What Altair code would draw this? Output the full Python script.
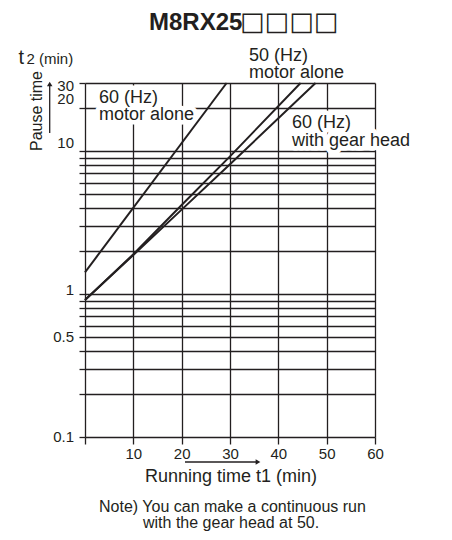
import altair as alt
import pandas as pd

# ---- data ----
t_60_motor = [0, 29.3]
p_60_motor = [1.42, 30]
t_50_motor = [0, 10, 20, 30, 44.6]
p_50_motor = [0.91, 1.9, 4.2, 9.2, 30]
t_60_gear = [0, 10, 20, 30, 47.7]
p_60_gear = [0.91, 1.88, 3.9, 8.1, 30]

series_names = ["60 Hz motor alone", "50 Hz motor alone", "60 Hz with gear head"]

x_ticks = [0, 10, 20, 30, 40, 50, 60]
y_grid = [0.1, 0.2, 0.3, 0.4, 0.5, 0.6, 0.7, 0.8, 0.9,
          1, 2, 3, 4, 5, 6, 7, 8, 9, 10, 20, 30]
y_labeled = [0.1, 0.5, 1, 10, 20, 30]
y_label_text = ["0.1", "0.5", "1", "10", "20", "30"]

title_text = "M8RX25"
title_boxes = "□□□□"
label_50_motor = ["50 (Hz)", "motor alone"]
label_60_motor = ["60 (Hz)", "motor alone"]
label_60_gear = ["60 (Hz)", "with gear head"]
y_title_t = "t"
y_title_rest = "2 (min)"
y_title_side = "Pause time"
x_title = "Running time t1 (min)"
note_lines = ["Note) You can make a continuous run", "with the gear head at 50."]

rows = []
for name, ts, ps in zip(series_names,
                        [t_60_motor, t_50_motor, t_60_gear],
                        [p_60_motor, p_50_motor, p_60_gear]):
    for t, p in zip(ts, ps):
        rows.append({"series": name, "t1": t, "t2": p})
df = pd.DataFrame(rows)

FONT = "Liberation Sans"
INK = "#231f20"
one = pd.DataFrame({"k": [0]})

x_scale = alt.Scale(domain=[0, 60], nice=False, zero=False)
y_scale = alt.Scale(type="log", domain=[0.1, 30], nice=False)

x_enc = alt.X(
    "t1:Q", title="", scale=x_scale,
    axis=alt.Axis(values=x_ticks, grid=True, gridColor=INK, gridWidth=1.3, gridOpacity=1,
                  domain=False, tickSize=7, tickColor=INK, tickWidth=1.3,
                  labelPadding=2, labelFont=FONT, labelFontSize=15, labelColor=INK,
                  labelExpr="datum.value == 0 ? '' : datum.label",
                  labelFlush=False, labelOverlap=False),
)
y_enc = alt.Y(
    "t2:Q", title="", scale=y_scale,
    axis=alt.Axis(values=y_grid, grid=True, gridColor=INK, gridWidth=1.3,
                  gridOpacity=1, domain=False, tickSize=6, tickColor=INK, tickWidth=1.3,
                  labels=False),
)

lines = alt.Chart(df).mark_line(color=INK, strokeWidth=2).encode(
    x=x_enc, y=y_enc, detail="series:N"
)


def txt(s, x, y, size=18, align="left", weight="normal", angle=0, halo=False, font=FONT):
    d = pd.DataFrame({"s": [s]})
    kw = dict(align=align, baseline="alphabetic", font=font, fontSize=size,
              fontWeight=weight, angle=angle)
    if halo:
        kw.update(color="white", stroke="white", strokeWidth=9, strokeJoin="round")
    else:
        kw.update(color=INK)
    return alt.Chart(d).mark_text(**kw).encode(
        text="s:N", x=alt.value(x), y=alt.value(y)
    )


def ylab(i, dy):
    d = pd.DataFrame({"v": [y_labeled[i]], "s": [y_label_text[i]]})
    return alt.Chart(d).mark_text(align="right", baseline="middle", font=FONT,
                                  fontSize=15, color=INK, dy=dy).encode(
        text="s:N", x=alt.value(-11), y=alt.Y("v:Q", scale=y_scale))


halo_layers = [
    txt(label_60_motor[0], 14, 20, halo=True),
    txt(label_60_motor[1], 14, 37, halo=True),
    txt(label_60_gear[0], 207, 45, halo=True),
    txt(label_60_gear[1], 207, 63, halo=True),
]

text_layers = [
    txt(title_text, 64, -53, size=24, weight="bold"),
    txt(title_boxes, 155, -53, size=26, font="DejaVu Sans"),
    txt(label_50_motor[0], 164, -22),
    txt(label_50_motor[1], 164, -5.5),
    txt(label_60_motor[0], 14, 20),
    txt(label_60_motor[1], 14, 37),
    txt(label_60_gear[0], 207, 45),
    txt(label_60_gear[1], 207, 63),
    txt(y_title_t, -66.5, -19.5, size=20),
    txt(y_title_rest, -58.5, -19.5, size=15),
    txt(y_title_side, -43, 28, size=16, align="center", angle=270),
    txt(x_title, 60, 399, size=18),
    txt(note_lines[0], 14, 428.5, size=16),
    txt(note_lines[1], 58, 445, size=16),
]

ylabel_layers = [ylab(0, 0), ylab(1, 0), ylab(2, -4), ylab(3, -8), ylab(4, -9), ylab(5, 3)]

arrows = [
    alt.Chart(one).mark_rule(color=INK, strokeWidth=1.3).encode(
        x=alt.value(-35.3), y=alt.value(50), y2=alt.value(3)),
    alt.Chart(one).mark_point(shape="triangle-up", filled=True, color=INK, opacity=1,
                              size=30).encode(x=alt.value(-35.3), y=alt.value(1)),
    alt.Chart(one).mark_rule(color=INK, strokeWidth=1.3).encode(
        x=alt.value(100), x2=alt.value(172), y=alt.value(379)),
    alt.Chart(one).mark_point(shape="triangle-right", filled=True, color=INK, opacity=1,
                              size=30).encode(x=alt.value(173), y=alt.value(379)),
]

chart = alt.layer(*halo_layers, lines, *ylabel_layers, *text_layers, *arrows).properties(
    width=290, height=354,
    padding={"left": 77, "top": 75, "right": 69, "bottom": 95},
    autosize=alt.AutoSizeParams(type="none"),
).configure_view(stroke="transparent")

chart.save("out.html", embed_options={"renderer": "svg", "actions": False})
